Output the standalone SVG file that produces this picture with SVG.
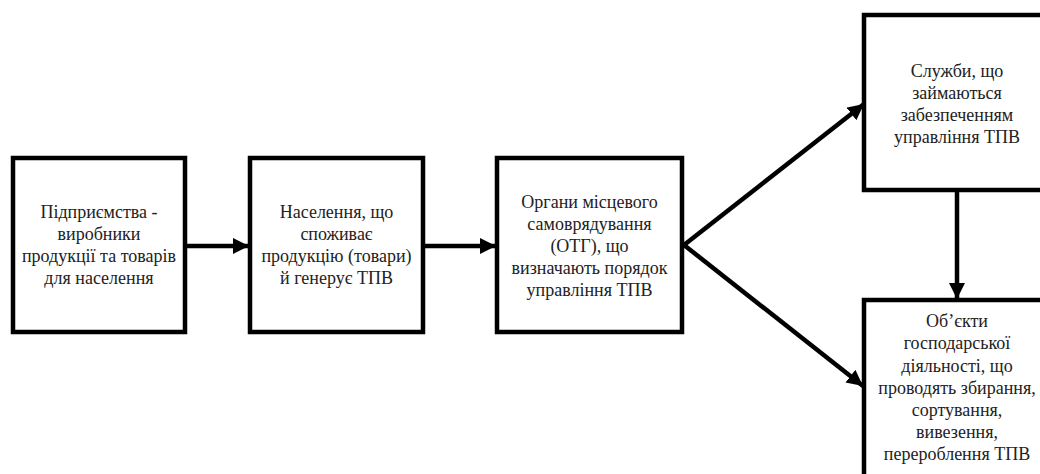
<svg xmlns="http://www.w3.org/2000/svg" width="1040" height="474" viewBox="0 0 1040 474">
  <style>
    .box { fill: #ffffff; stroke: #000000; stroke-width: 4.5; }
    .conn { fill: none; stroke: #000000; stroke-width: 4.5; marker-end: url(#arrow); }
  </style>
  <defs>
    <marker id="arrow" markerUnits="userSpaceOnUse" markerWidth="18" markerHeight="18" refX="16" refY="8" orient="auto">
      <path d="M0,0 L16,8 L0,16 Z" fill="#000000"/>
    </marker>
  </defs>
  <rect width="1040" height="474" fill="#ffffff"/>

  <g id="connectors">
    <line class="conn" x1="187" y1="246" x2="249" y2="246"/>
    <line class="conn" x1="425" y1="246" x2="496" y2="246"/>
    <path class="conn" d="M684,245 L864,104"/>
    <path class="conn" d="M684,245 L863,386"/>
    <line class="conn" x1="957" y1="192" x2="957" y2="299"/>
  </g>

  <!-- labels share one serif face, centred in each box -->
  <g font-family="Liberation Serif" font-size="18" fill="#222222" text-anchor="middle">
    <g id="node-enterprises">
      <rect class="box" x="13" y="158" width="172" height="174"/>
      <text x="99" y="218">Підприємства -</text>
      <text x="99" y="240">виробники</text>
      <text x="99" y="262">продукції та товарів</text>
      <text x="99" y="284">для населення</text>
    </g>

    <g id="node-population">
      <rect class="box" x="250" y="158" width="173" height="174"/>
      <text x="336.5" y="218">Населення, що</text>
      <text x="336.5" y="240">споживає</text>
      <text x="336.5" y="262">продукцію (товари)</text>
      <text x="336.5" y="284">й генерує ТПВ</text>
    </g>

    <g id="node-local-government">
      <rect class="box" x="497" y="158" width="185" height="174"/>
      <text x="589.5" y="208">Органи місцевого</text>
      <text x="589.5" y="230">самоврядування</text>
      <text x="589.5" y="252">(ОТГ), що</text>
      <text x="589.5" y="274">визначають порядок</text>
      <text x="589.5" y="296">управління ТПВ</text>
    </g>

    <g id="node-services">
      <rect class="box" x="864" y="15" width="190" height="175"/>
      <text x="957" y="77">Служби, що</text>
      <text x="957" y="99">займаються</text>
      <text x="957" y="121">забезпеченням</text>
      <text x="957" y="143">управління ТПВ</text>
    </g>

    <g id="node-operators">
      <rect class="box" x="864" y="300" width="190" height="190"/>
      <text x="957" y="327">Об’єкти</text>
      <text x="957" y="349">господарської</text>
      <text x="957" y="372">діяльності, що</text>
      <text x="957" y="394">проводять збирання,</text>
      <text x="957" y="416">сортування,</text>
      <text x="957" y="438">вивезення,</text>
      <text x="957" y="460">перероблення ТПВ</text>
    </g>
  </g>
</svg>
